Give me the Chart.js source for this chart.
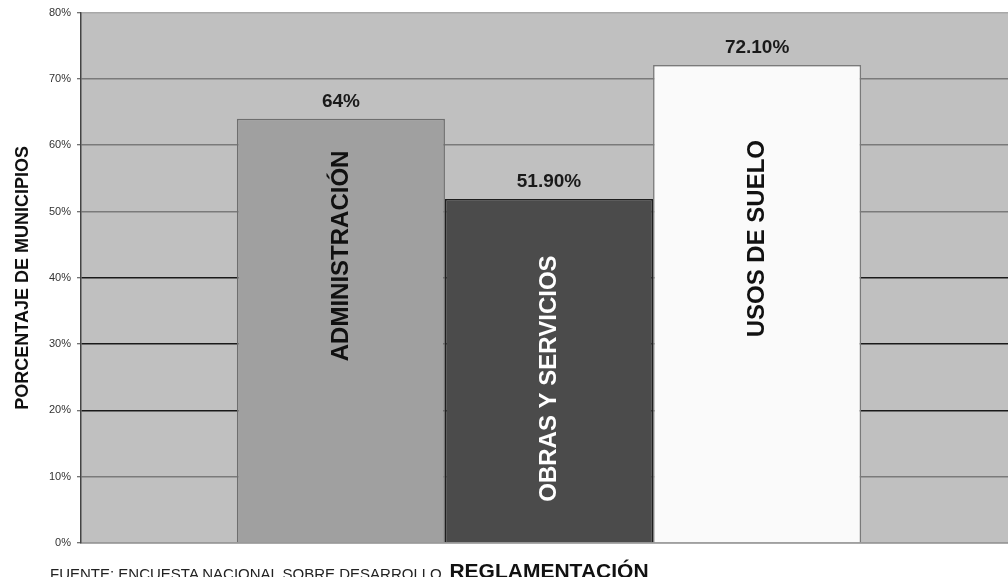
<!DOCTYPE html>
<html>
<head>
<meta charset="utf-8">
<script src="https://cdn.jsdelivr.net/npm/chart.js@4/dist/chart.umd.min.js"></script>
<style>
    html, body { margin: 0; padding: 0; background: #fff; overflow: hidden; }
    #wrap { position: relative; width: 1017px; height: 590px; }
    #footer {
        position: absolute; left: 50px; top: 565px;
        font: 15px "Liberation Sans", Arial, sans-serif; color: #222;
        white-space: nowrap;
    }
</style>
</head>
<body>
<div id="wrap">
    <canvas id="chart" width="1017" height="590"></canvas>
    <div id="footer">FUENTE: ENCUESTA NACIONAL SOBRE DESARROLLO</div>
</div>
<script>
// Chart data
const categories = ['ADMINISTRACIÓN', 'OBRAS Y SERVICIOS', 'USOS DE SUELO'];
const values = [64, 51.9, 72.1];
const valueLabels = ['64%', '51.90%', '72.10%'];
const yTicks = [0, 10, 20, 30, 40, 50, 60, 70, 80];

// Styles
const barColors = ['#a0a0a0', '#4b4b4b', '#fafafa'];
const barBorders = ['#6e6e6e', '#1e1e1e', '#7a7a7a'];
const insideTextColors = ['#111', '#fff', '#111'];
const FONT = '"Liberation Sans", Arial, sans-serif';

const plotBackground = {
    id: 'plotBackground',
    beforeDraw(chart) {
        const { ctx, chartArea } = chart;
        ctx.save();
        ctx.fillStyle = '#c0c0c0';
        ctx.fillRect(chartArea.left, chartArea.top, chartArea.right - chartArea.left, chartArea.bottom - chartArea.top);
        ctx.restore();
    }
};

const barLabels = {
    id: 'barLabels',
    afterDatasetsDraw(chart, args, opts) {
        const { ctx } = chart;
        const yScale = chart.scales.y;
        chart.data.datasets.forEach((ds, i) => {
            const bar = chart.getDatasetMeta(i).data[0];
            ctx.save();
            // value above the bar
            ctx.font = 'bold 19px ' + FONT;
            ctx.fillStyle = '#1a1a1a';
            ctx.textAlign = 'center';
            ctx.textBaseline = 'middle';
            ctx.fillText(valueLabels[i], bar.x, bar.y - 17);
            // name inside the bar, rotated
            const cy = yScale.getPixelForValue(opts.centers[i]);
            ctx.translate(bar.x, cy);
            ctx.rotate(-Math.PI / 2);
            ctx.font = 'bold 24px ' + FONT;
            ctx.fillStyle = insideTextColors[i];
            ctx.fillText(ds.label, 0, 0);
            ctx.restore();
        });
    }
};

function gridColor(c) {
    const v = c.tick && c.tick.value;
    if (v === 80) return '#a8a8a8';
    if (v === 20 || v === 30 || v === 40) return '#1a1a1a';
    return '#7a7a7a';
}

new Chart(document.getElementById('chart').getContext('2d'), {
    type: 'bar',
    data: {
        labels: [''],
        datasets: categories.map((name, i) => ({
            label: name,
            data: [values[i]],
            backgroundColor: barColors[i],
            borderColor: barBorders[i],
            borderWidth: 1.5,
            barPercentage: 1,
            categoryPercentage: 0.667
        }))
    },
    options: {
        responsive: false,
        animation: false,
        layout: { padding: { top: 11, left: 0, right: 0, bottom: 0 } },
        plugins: {
            legend: { display: false },
            tooltip: { enabled: false },
            barLabels: { centers: [43.3, 24.8, 45.9] }
        },
        scales: {
            x: {
                grid: { display: false },
                border: { display: true, color: '#9a9a9a', width: 1.5 },
                ticks: { display: false },
                title: {
                    display: true,
                    text: 'REGLAMENTACIÓN',
                    color: '#111',
                    font: { family: FONT, size: 21, weight: 'bold' },
                    padding: { top: 0, bottom: 5 }
                },
                afterFit(scale) { scale.height = 47; }
            },
            y: {
                min: 0,
                max: 80,
                afterBuildTicks(scale) { scale.ticks = yTicks.map(v => ({ value: v })); },
                ticks: {
                    padding: 6,
                    color: '#333',
                    font: { family: FONT, size: 11 },
                    callback: v => v + '%'
                },
                grid: {
                    color: gridColor,
                    lineWidth: 1.5,
                    tickLength: 4,
                    tickColor: '#444',
                    tickWidth: 1
                },
                border: { color: '#444', width: 1.5 },
                title: {
                    display: true,
                    text: 'PORCENTAJE DE MUNICIPIOS',
                    color: '#111',
                    font: { family: FONT, size: 18, weight: 'bold' },
                    padding: { top: 12, bottom: 0 }
                },
                afterFit(scale) { scale.width = 81; }
            }
        }
    },
    plugins: [plotBackground, barLabels]
});
</script>
</body>
</html>
